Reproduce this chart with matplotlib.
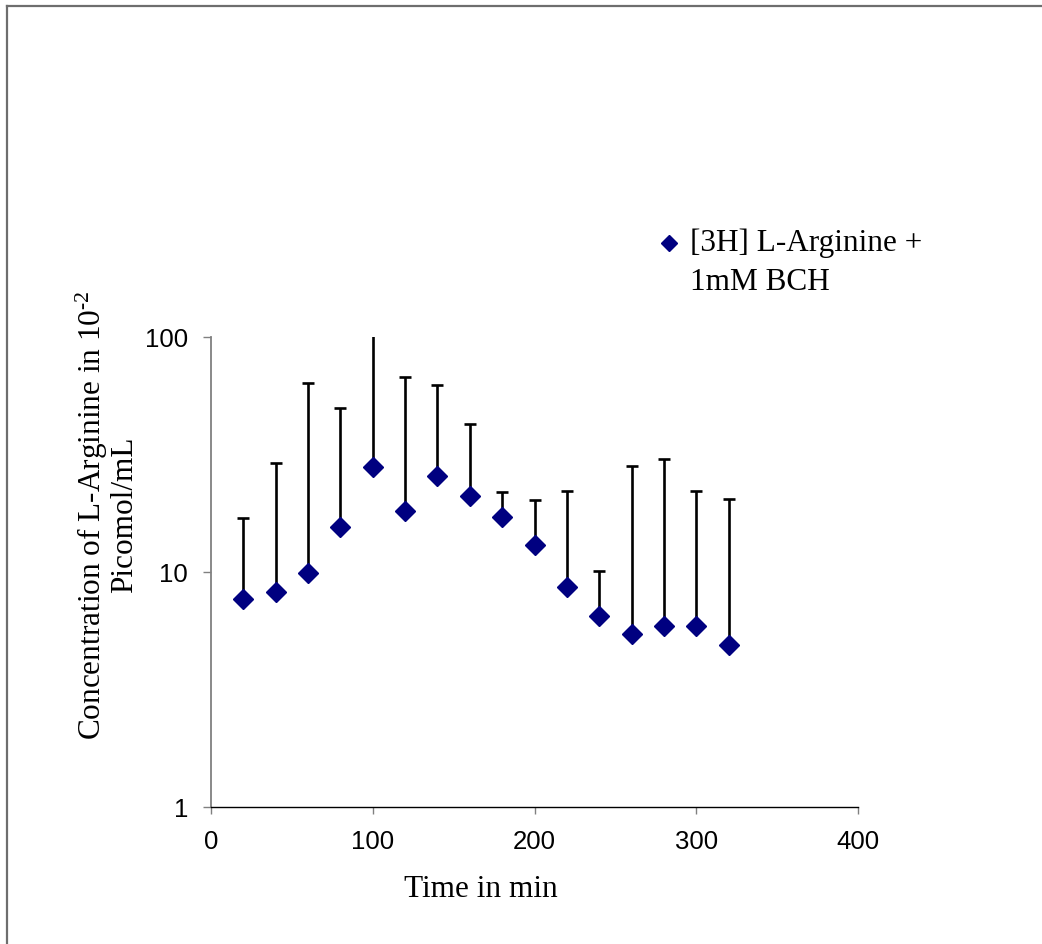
import numpy as np
import matplotlib
matplotlib.use("Agg")
import matplotlib.pyplot as plt
from matplotlib.lines import Line2D
from matplotlib.transforms import Affine2D

# data
time_min = [20, 40, 60, 80, 100, 120, 140, 160, 180, 200, 220, 240, 260, 280, 300, 320]
conc = [7.7, 8.2, 9.9, 15.5, 27.9, 18.1, 25.7, 21.1, 17.1, 13.0, 8.6, 6.5, 5.45, 5.9, 5.9, 4.9]
upper = [16.9, 29.0, 63.9, 49.7, 130.0, 67.6, 62.2, 42.7, 21.9, 20.2, 22.1, 10.1, 28.1, 30.2, 22.0, 20.5]
series_label = "[3H] L-Arginine +\n1mM BCH"
xticks = [0, 100, 200, 300, 400]
yticks = [1, 10, 100]

plt.rcParams['mathtext.fontset'] = 'custom'
plt.rcParams['mathtext.rm'] = 'Liberation Serif'
plt.rcParams['mathtext.it'] = 'Liberation Serif:italic'

serif = 'Liberation Serif'
sans = 'Liberation Sans'

fig = plt.figure(figsize=(10.42, 9.45), dpi=100)
ax = fig.add_axes([0.2025, 0.145, 0.621, 0.4974])

err_up = np.array(upper) - np.array(conc)
err_lo = np.zeros(len(conc))
ax.errorbar(time_min, conc, yerr=[err_lo, err_up], fmt='D', color='#000080',
            markersize=10.5, ecolor='black', elinewidth=1.9, capsize=4.3,
            capthick=1.9, zorder=3)

ax.set_yscale('log')
ax.set_xlim(0, 400)
ax.set_ylim(1, 100)
ax.set_xticks(xticks)
ax.set_xticklabels([str(v) for v in xticks], fontfamily=sans, fontsize=18.5)
ax.set_yticks(yticks)
ax.set_yticklabels([str(v) for v in yticks], fontfamily=sans, fontsize=18.5)
ax.yaxis.set_minor_locator(matplotlib.ticker.NullLocator())

ax.spines['top'].set_visible(False)
ax.spines['right'].set_visible(False)
ax.spines['left'].set_color('#808080')
ax.spines['left'].set_linewidth(1.3)
ax.spines['bottom'].set_color('black')
ax.spines['bottom'].set_linewidth(1.0)
ax.tick_params(axis='y', direction='out', length=5.5, width=1.0, color='#808080', pad=11)
ax.tick_params(axis='x', direction='out', length=5, width=1.0, color='#808080', pad=11)

fig.text(481 / 1042, 1 - 890 / 945, "Time in min", fontfamily=serif, fontsize=22.5,
         ha='center', va='center')
fig.text(106 / 1042, 1 - 515 / 945,
         "Concentration of L-Arginine in 10$^{\\text{-2}}$\nPicomol/mL",
         fontfamily=serif, fontsize=22.5, rotation=90, ha='center', va='center',
         multialignment='center', linespacing=1.0)

handle = Line2D([], [], marker='D', ls='none', color='#000080', markersize=8)
leg = ax.legend([handle], [series_label], loc='upper left',
                bbox_to_anchor=(660 / 1042, 1 - 228 / 945),
                bbox_transform=fig.transFigure, frameon=False,
                prop={'family': serif, 'size': 22.5}, handlelength=0.6,
                handletextpad=0.35, borderpad=0, borderaxespad=0)
for t in leg.get_texts():
    t.set_linespacing(1.5)
# put the legend marker next to the first text line, as in the original
lh = leg.legend_handles[0]
lh.set_transform(lh.get_transform() + Affine2D().translate(0, 19))

# outer chart border (partly cut off at right and bottom)
fig.add_artist(Line2D([7 / 1042, 1.0], [1 - 7 / 945, 1 - 7 / 945],
                      transform=fig.transFigure, color='#6e6e6e', lw=1.6))
fig.add_artist(Line2D([7 / 1042, 7 / 1042], [0.0, 1 - 7 / 945],
                      transform=fig.transFigure, color='#6e6e6e', lw=1.6))

fig.savefig('out.png', dpi=100)
